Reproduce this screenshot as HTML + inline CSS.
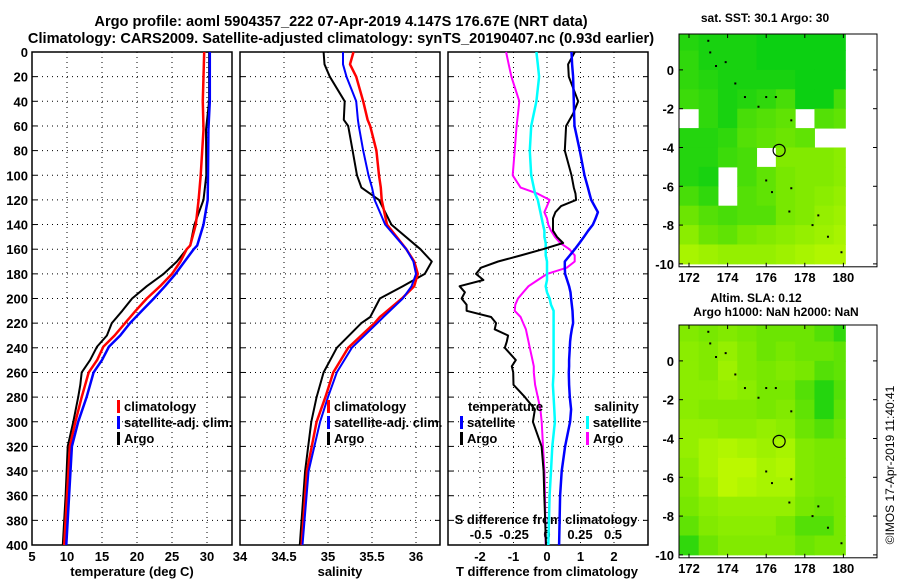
<!DOCTYPE html>
<html><head><meta charset="utf-8"><style>
body{margin:0;background:#fff;}
svg{display:block;font-family:"Liberation Sans",sans-serif;font-weight:bold;}
</style></head><body>
<svg id="c" width="900" height="580" viewBox="0 0 900 580"></svg>
<script>
// ---- profile data ----
const tDepth=[0,40,63,100,120,140,157,160,170,180,190,200,210,220,230,239,250,260,270,280,300,320,360,400];
const tClim=[29.6,29.4,29.5,29.1,28.8,28.4,27.6,27.1,26.2,25.0,23.3,21.4,19.8,18.3,16.8,15.2,14.3,13.1,12.6,12.1,11.2,10.4,10.0,9.6];
const tSat=[30.4,30.4,30.2,30.15,30.1,29.5,28.6,28.1,26.8,25.5,24.0,22.4,20.7,19.0,17.6,16.0,15.0,13.8,13.3,12.8,11.6,10.7,10.3,9.9];
const tArgo=[30.3,30.3,29.86,29.9,29.5,28.2,27.6,27.1,25.7,23.8,21.4,19.3,17.9,16.4,15.7,14.3,13.3,12.1,11.9,11.6,10.9,10.1,9.8,9.4];
const sDepth=[0,10,20,40,55,60,80,100,110,120,140,160,170,180,190,200,215,220,240,260,280,300,340,400];
const sClim=[35.29,35.25,35.32,35.40,35.45,35.48,35.55,35.58,35.60,35.61,35.67,35.89,35.98,36.02,35.98,35.84,35.59,35.53,35.23,35.06,34.97,34.87,34.76,34.70];
const sSat=[35.17,35.17,35.21,35.32,35.34,35.35,35.40,35.46,35.50,35.53,35.65,35.89,35.97,36.0,35.95,35.85,35.63,35.56,35.27,35.10,35.0,34.91,34.78,34.71];
const sArgo=[34.95,34.96,35.02,35.19,35.18,35.23,35.28,35.33,35.38,35.58,35.72,36.05,36.18,36.10,35.85,35.59,35.48,35.38,35.10,34.95,34.87,34.81,34.74,34.68];
const dDepth=[0,10,20,40,50,60,80,100,110,115,120,125,130,135,140,145,150,155,160,165,170,175,180,185,190,195,200,205,210,215,220,225,230,235,240,250,255,260,270,280,290,300,320,340,360,400];
const dTSat=[0.73,0.75,0.78,0.80,0.81,0.82,0.98,1.12,1.22,1.27,1.32,1.42,1.52,1.45,1.37,1.23,1.10,0.97,0.83,0.68,0.53,0.53,0.54,0.6,0.66,0.7,0.72,0.74,0.76,0.77,0.78,0.74,0.71,0.69,0.68,0.66,0.66,0.65,0.66,0.68,0.72,0.69,0.54,0.44,0.39,0.36];
const dTArgo=[0.83,0.63,0.65,0.93,0.78,0.57,0.53,0.73,0.8,0.85,0.87,0.42,0.25,0.18,0.18,0.18,0.30,0.48,-0.12,-0.78,-1.46,-1.97,-2.12,-1.9,-2.61,-2.45,-2.55,-2.4,-2.4,-1.67,-1.52,-1.56,-1.16,-1.2,-1.26,-0.93,-1.05,-1.01,-1.0,-0.66,-0.36,-0.42,-0.16,-0.10,-0.08,-0.03];
const dSSat=[-0.08,-0.07,-0.06,-0.08,-0.10,-0.12,-0.13,-0.12,-0.10,-0.09,-0.07,-0.06,-0.05,-0.04,-0.03,-0.02,-0.02,-0.01,-0.01,-0.01,0,0,0,0,-0.01,0,0.02,0.03,0.05,0.05,0.05,0.05,0.05,0.05,0.05,0.05,0.05,0.05,0.045,0.05,0.055,0.06,0.04,0.03,0.02,0.01];
const dSArgo=[-0.31,-0.29,-0.27,-0.21,-0.22,-0.23,-0.245,-0.26,-0.2,-0.07,0.02,0,-0.02,0,0.01,0.03,0.06,0.1,0.17,0.21,0.21,0.15,0,-0.07,-0.14,-0.18,-0.22,-0.24,-0.245,-0.2,-0.18,-0.16,-0.15,-0.14,-0.13,-0.11,-0.1,-0.1,-0.09,-0.07,-0.05,-0.04,-0.03,-0.02,-0.015,-0.01];
// ---- map data (rows lat 1.5..-9.5, cols lon 172..180) ----
const mapLons=[172,173,174,175,176,177,178,179,180];
const mapLats=[1.5,0.5,-0.5,-1.5,-2.5,-3.5,-4.5,-5.5,-6.5,-7.5,-8.5,-9.5];
const sstGrid=[
[0.15,0.1,0.1,0.1,0.05,0.05,0.05,0.05,0.05],
[0.2,0.1,0.1,0.1,0.05,0.05,0.05,0.05,0.05],
[0.2,0.15,0.1,0.1,0.1,0.1,0.05,0.05,0.05],
[0.25,0.2,0.1,0.15,0.2,0.3,0.05,0.05,0.3],
[null,0.2,0.1,0.3,0.35,0.4,null,0.35,0.4],
[0.15,0.15,0.2,0.35,0.4,0.45,0.4,null,null],
[0.15,0.15,0.25,0.3,null,0.55,0.55,0.55,0.6],
[0.15,0.1,null,0.3,0.4,0.5,0.55,0.55,0.6],
[0.3,0.2,null,0.35,0.4,0.5,0.55,0.6,0.65],
[0.45,0.35,0.3,0.35,0.35,0.5,0.55,0.65,0.7],
[0.6,0.45,0.4,0.5,0.55,0.6,0.65,0.7,0.75],
[0.75,0.7,0.65,0.65,0.65,0.7,0.75,0.8,0.8]];
const slaGrid=[
[0.55,0.5,0.55,0.5,0.45,0.45,0.45,0.35,0.2],
[0.6,0.55,0.65,0.55,0.45,0.5,0.45,0.45,0.4],
[0.6,0.55,0.7,0.55,0.5,0.55,0.5,0.35,0.4],
[0.6,0.6,0.65,0.6,0.5,0.5,0.35,0.15,0.35],
[0.6,0.55,0.55,0.55,0.5,0.55,0.4,0.15,0.4],
[0.65,0.65,0.6,0.6,0.65,0.6,0.45,0.35,0.45],
[0.65,0.75,0.8,0.75,0.7,0.75,0.55,0.5,0.5],
[0.6,0.75,0.85,0.85,0.75,0.8,0.55,0.5,0.5],
[0.55,0.7,0.85,0.8,0.75,0.75,0.55,0.5,0.5],
[0.5,0.6,0.65,0.65,0.65,0.65,0.5,0.45,0.5],
[0.4,0.55,0.6,0.6,0.6,0.5,0.35,0.35,0.5],
[0.2,0.45,0.55,0.55,0.55,0.55,0.45,0.5,0.5]];
const islandLon=[173.0,173.1,173.9,173.4,174.4,174.9,175.6,176.0,176.5,177.3,176.0,176.3,177.3,177.2,178.4,178.7,179.2,179.9];
const islandLat=[1.5,0.9,0.4,0.2,-0.7,-1.4,-1.9,-1.4,-1.4,-2.6,-5.7,-6.3,-6.1,-7.3,-8.0,-7.5,-8.6,-9.4];
const argoLon=176.67, argoLat=-4.147;

const NS='http://www.w3.org/2000/svg';
const svg=document.getElementById('c');
function el(tag,attrs,parent){const e=document.createElementNS(NS,tag);for(const k in attrs)e.setAttribute(k,attrs[k]);(parent||svg).appendChild(e);return e;}
function txt(x,y,s,anchor,size,parent){const t=el('text',{x:x,y:y,'text-anchor':anchor||'middle','font-size':size||12,fill:'#000'},parent);t.textContent=s;return t;}

const P0=52,P1=545;
const yD=d=>P0+d*(P1-P0)/400;
const panels=[
 {x0:32,x1:232,f:v=>32+(v-5)*7,grid:[10,15,20,25,30],name:'temperature-panel'},
 {x0:240,x1:440,f:v=>240+(v-34)*88,grid:[34.5,35,35.5,36],name:'salinity-panel'},
 {x0:448,x1:648,f:v=>547+v*33.5,grid:[-2,-1,0,1,2],name:'difference-panel'}];
const fS=v=>547+v*132;

panels.forEach((p,i)=>{
 const g=el('g',{});
 
 
 for(let d=20;d<400;d+=20){const l=el('line',{x1:p.x0,x2:p.x1,y1:yD(d),y2:yD(d),stroke:'#000','stroke-width':1,'stroke-dasharray':'1,4'},g);
  
  el('line',{x1:p.x0,x2:p.x0+5,y1:yD(d),y2:yD(d),stroke:'#000'},g);el('line',{x1:p.x1-5,x2:p.x1,y1:yD(d),y2:yD(d),stroke:'#000'},g);}
 p.grid.forEach(v=>{const x=p.f(v);const l=el('line',{x1:x,x2:x,y1:P0,y2:P1,stroke:'#000','stroke-width':1,'stroke-dasharray':'1,4'},g);
  });
 const r=el('rect',{x:p.x0,y:P0,width:p.x1-p.x0,height:P1-P0,fill:'none',stroke:'#000','stroke-width':1.5},g);
 
});
for(let d=0;d<=400;d+=20){const t=txt(28,yD(d)+5,String(d),'end',13);}
const tTicks=[5,10,15,20,25,30];
tTicks.forEach(v=>{const t=txt(panels[0].f(v),561,String(v),'middle',13);});
const sTicks=[34,34.5,35,35.5,36];
sTicks.forEach(v=>{const t=txt(panels[1].f(v),561,String(v),'middle',13);});
const dTicks=[-2,-1,0,1,2];
dTicks.forEach(v=>{const t=txt(panels[2].f(v),561,String(v),'middle',13);});
const dsTicks=[-0.5,-0.25,0,0.25,0.5];
dsTicks.forEach(v=>{const t=txt(fS(v),539,String(v),'middle',13);});
let t;
t=txt(132,576,'temperature (deg C)','middle',13);
t=txt(340,576,'salinity','middle',13);
t=txt(547,576,'T difference from climatology','middle',13);
t=txt(546,524,'S difference from climatology','middle',13);
t=txt(341,26,'Argo profile: aoml 5904357_222 07-Apr-2019 4.147S 176.67E (NRT data)','middle',14.6);
t=txt(341,43,'Climatology: CARS2009. Satellite-adjusted climatology: synTS_20190407.nc (0.93d earlier)','middle',14.6);

function line(depths,vals,f,color,w,name){
 const pts=depths.map((d,i)=>f(vals[i]).toFixed(1)+','+yD(d).toFixed(1)).join(' ');
 const l=el('polyline',{points:pts,fill:'none',stroke:color,'stroke-width':w,'stroke-linejoin':'round'});
 
}
line(tDepth,tArgo,panels[0].f,'#000',2,'temperature-argo-line');
line(tDepth,tClim,panels[0].f,'#f00',2.5,'temperature-climatology-line');
line(tDepth,tSat,panels[0].f,'#00f',2.5,'temperature-satellite-line');
line(sDepth,sArgo,panels[1].f,'#000',2,'salinity-argo-line');
line(sDepth,sClim,panels[1].f,'#f00',2.5,'salinity-climatology-line');
line(sDepth,sSat,panels[1].f,'#00f',2,'salinity-satellite-line');
line(dDepth,dSArgo,fS,'#f0f',2,'s-diff-argo-line');
line(dDepth,dSSat,fS,'#0ff',2.5,'s-diff-satellite-line');
line(dDepth,dTArgo,panels[2].f,'#000',2,'t-diff-argo-line');
line(dDepth,dTSat,panels[2].f,'#00f',2.5,'t-diff-satellite-line');

function legend(x,y,items,name){
 items.forEach((it,i)=>{const yy=y+i*16;
  const r=el('rect',{x:x,y:yy-11,width:3,height:13,fill:it[1]});
  
  const tt=txt(x+7,yy,it[0],'start',13);});
}
legend(117,411,[['climatology','#f00'],['satellite-adj. clim.','#00f'],['Argo','#000']],'temperature-legend');
legend(327,411,[['climatology','#f00'],['satellite-adj. clim.','#00f'],['Argo','#000']],'salinity-legend');
t=txt(468,411,'temperature','start',13);
legend(460,427,[['satellite','#00f'],['Argo','#000']],'t-diff-legend');
t=txt(594,411,'salinity','start',13);
legend(586,427,[['satellite','#0ff'],['Argo','#f0f']],'s-diff-legend');

// ---- maps ----
function col(v){
 const a=[0,205,20],b=[120,232,0],c=[215,255,0];let r;
 if(v<0.5){const s=v/0.5;r=a.map((q,i)=>q+(b[i]-q)*s);}else{const s=Math.min(1,(v-0.5)/0.5);r=b.map((q,i)=>q+(c[i]-q)*s);}
 return 'rgb('+r.map(Math.round).join(',')+')';
}
function map(top,grid,name){
 const X0=679,X1=877;
 const lx=lon=>689+(lon-172)*19.3;
 const ly=lat=>top+(1.85-lat)*19.4;
 const bottom=ly(-10.15);
 const g=el('g',{});
 
 grid.forEach((row,ri)=>row.forEach((v,ci)=>{
  if(v===null)return;
  const lon=mapLons[ci],lat=mapLats[ri];
  const x0=Math.max(X0,lx(lon-0.5)),x1=Math.min(lx(180.1),lx(lon+0.5));
  const y0=Math.max(top,ly(lat+0.5)),y1=Math.min(bottom,ly(lat-0.5));
  const r=el('rect',{x:x0,y:y0,width:x1-x0+0.5,height:y1-y0+0.5,fill:col(v)},g);
  
 }));
 islandLon.forEach((lo,i)=>{const d=el('rect',{x:lx(lo)-1,y:ly(islandLat[i])-1,width:2,height:2,fill:'#000'},g);
  });
 const c=el('circle',{cx:lx(argoLon),cy:ly(argoLat),r:6,fill:'none',stroke:'#000','stroke-width':1.2},g);
 
 const fr=el('rect',{x:X0,y:top,width:X1-X0,height:bottom-top,fill:'none',stroke:'#000','stroke-width':1},g);
 
 [0,-2,-4,-6,-8,-10].forEach(la=>{const y=ly(la);
  el('line',{x1:X0,x2:X0+4,y1:y,y2:y,stroke:'#000'},g);el('line',{x1:X1-4,x2:X1,y1:y,y2:y,stroke:'#000'},g);
  const tt=txt(674,y+5,String(la),'end',13,g);});
 [172,174,176,178,180].forEach(lo=>{const x=lx(lo);
  el('line',{x1:x,x2:x,y1:top,y2:top+4,stroke:'#000'},g);el('line',{x1:x,x2:x,y1:bottom-4,y2:bottom,stroke:'#000'},g);
  const tt=txt(x,bottom+15,String(lo),'middle',13,g);});
}
map(34,sstGrid,'sst-map');
map(325,slaGrid,'sla-map');
t=txt(765,22,'sat. SST: 30.1 Argo: 30','middle',12);
t=txt(756,302,'Altim. SLA: 0.12','middle',12);
t=txt(776,316,'Argo h1000: NaN h2000: NaN','middle',12);
t=el('text',{x:0,y:0,'text-anchor':'middle','font-size':12,'font-weight':'normal',transform:'translate(894,465) rotate(-90)'});
t.textContent='©IMOS 17-Apr-2019 11:40:41';

</script>
</body></html>
